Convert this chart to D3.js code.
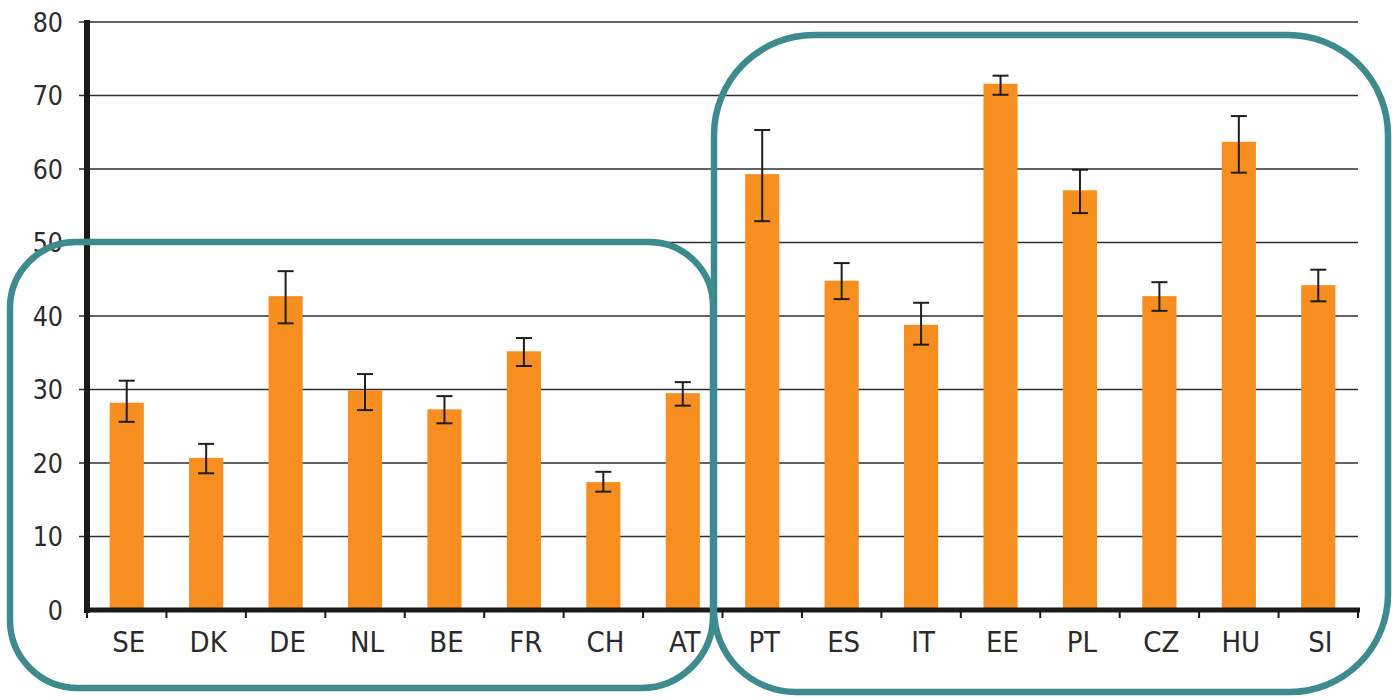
<!DOCTYPE html>
<html>
<head>
<meta charset="utf-8">
<script src="https://cdn.jsdelivr.net/npm/d3@7"></script>
<style>
  html, body { margin: 0; padding: 0; background: #fff; }
  svg { display: block; }
  text { font-family: "DejaVu Sans Condensed", "DejaVu Sans", sans-serif; fill: #2b2b2b; }
</style>
</head>
<body>
<svg id="chart" width="1392" height="698"></svg>
<script>
// Country codes, share (%) and confidence interval bounds
const countries = ["SE", "DK", "DE", "NL", "BE", "FR", "CH", "AT", "PT", "ES", "IT", "EE", "PL", "CZ", "HU", "SI"];
const values    = [28.2, 20.7, 42.7, 29.9, 27.3, 35.2, 17.4, 29.5, 59.3, 44.8, 38.8, 71.6, 57.1, 42.7, 63.7, 44.2];
const upper     = [31.2, 22.6, 46.1, 32.1, 29.1, 37.0, 18.8, 31.0, 65.3, 47.2, 41.8, 72.7, 59.9, 44.6, 67.2, 46.3];
const lower     = [25.6, 18.6, 39.0, 27.2, 25.4, 33.2, 16.1, 27.8, 52.9, 42.3, 36.1, 70.1, 54.0, 40.7, 59.5, 42.0];
const yTicks    = [0, 10, 20, 30, 40, 50, 60, 70, 80];
// Two country groups outlined by rounded frames
const groupA = ["SE", "DK", "DE", "NL", "BE", "FR", "CH", "AT"];
const groupB = ["PT", "ES", "IT", "EE", "PL", "CZ", "HU", "SI"];

const rows = countries.map((c, i) => ({ c, v: values[i], hi: upper[i], lo: lower[i] }));

const svg = d3.select("#chart");
const plot = { left: 87, right: 1358, top: 22, bottom: 610 };

const x = d3.scaleBand()
  .domain(countries)
  .range([plot.left, plot.right])
  .paddingInner(0.57)
  .paddingOuter(0.285);

const y = d3.scaleLinear().domain([0, 80]).range([plot.bottom, plot.top]);

// Horizontal gridlines with short outer ticks
svg.append("g")
  .selectAll("line")
  .data(yTicks.slice(1))
  .join("line")
  .attr("x1", plot.left - 8)
  .attr("x2", plot.right)
  .attr("y1", d => y(d))
  .attr("y2", d => y(d))
  .attr("stroke", "#2f2f2f")
  .attr("stroke-width", 1.6);

// Y axis labels
svg.append("g")
  .selectAll("text")
  .data(yTicks)
  .join("text")
  .attr("x", 63)
  .attr("y", d => y(d))
  .attr("dy", "0.36em")
  .attr("text-anchor", "end")
  .attr("font-size", 26.5)
  .text(d => d);

// Bars
svg.append("g")
  .selectAll("rect")
  .data(rows)
  .join("rect")
  .attr("x", d => x(d.c))
  .attr("width", x.bandwidth())
  .attr("y", d => y(d.v))
  .attr("height", d => y(0) - y(d.v))
  .attr("fill", "#f68f1f");

// Error bars
const err = svg.append("g").attr("stroke", "#1e1e1e").attr("stroke-width", 2);
rows.forEach(d => {
  const cx = x(d.c) + x.bandwidth() / 2;
  err.append("line").attr("x1", cx).attr("x2", cx).attr("y1", y(d.hi)).attr("y2", y(d.lo));
  err.append("line").attr("x1", cx - 8).attr("x2", cx + 8).attr("y1", y(d.hi)).attr("y2", y(d.hi));
  err.append("line").attr("x1", cx - 8).attr("x2", cx + 8).attr("y1", y(d.lo)).attr("y2", y(d.lo));
});

// Y axis line (heavy)
svg.append("line")
  .attr("x1", plot.left).attr("x2", plot.left)
  .attr("y1", plot.top - 2).attr("y2", plot.bottom + 3)
  .attr("stroke", "#1a1a1a").attr("stroke-width", 6);

// X axis line with ticks at category boundaries
svg.append("line")
  .attr("x1", plot.left - 3).attr("x2", plot.right + 2)
  .attr("y1", plot.bottom).attr("y2", plot.bottom)
  .attr("stroke", "#1a1a1a").attr("stroke-width", 5);

const bounds = countries.map(c => x(c) - x.step() * x.paddingInner() / 2).concat([plot.right]);
svg.append("g")
  .selectAll("line")
  .data(bounds)
  .join("line")
  .attr("x1", d => d).attr("x2", d => d)
  .attr("y1", plot.bottom).attr("y2", plot.bottom + 8)
  .attr("stroke", "#1a1a1a").attr("stroke-width", 2);

// X axis labels
svg.append("g")
  .selectAll("text")
  .data(countries)
  .join("text")
  .attr("x", d => x(d) + x.bandwidth() / 2 + 2)
  .attr("y", 641.5)
  .attr("dy", "0.36em")
  .attr("text-anchor", "middle")
  .attr("font-size", 29)
  .text(d => d);

// Rounded frame with individual corner radii [tl, tr, br, bl]
function roundedFrame(x0, y0, x1, y1, r) {
  const [tl, tr, br, bl] = r;
  return `M${x0 + tl},${y0}` +
    `H${x1 - tr}A${tr},${tr} 0 0 1 ${x1},${y0 + tr}` +
    `V${y1 - br}A${br},${br} 0 0 1 ${x1 - br},${y1}` +
    `H${x0 + bl}A${bl},${bl} 0 0 1 ${x0},${y1 - bl}` +
    `V${y0 + tl}A${tl},${tl} 0 0 1 ${x0 + tl},${y0}Z`;
}

const frames = svg.append("g")
  .attr("fill", "none")
  .attr("stroke", "#3d8b8f")
  .attr("stroke-width", 6.5);

frames.append("path")
  .datum(groupA)
  .attr("d", roundedFrame(10, 242, 713, 688, [66, 64, 72, 68]));

frames.append("path")
  .datum(groupB)
  .attr("d", roundedFrame(714, 35, 1388, 692, [100, 100, 98, 82]));
</script>
</body>
</html>
